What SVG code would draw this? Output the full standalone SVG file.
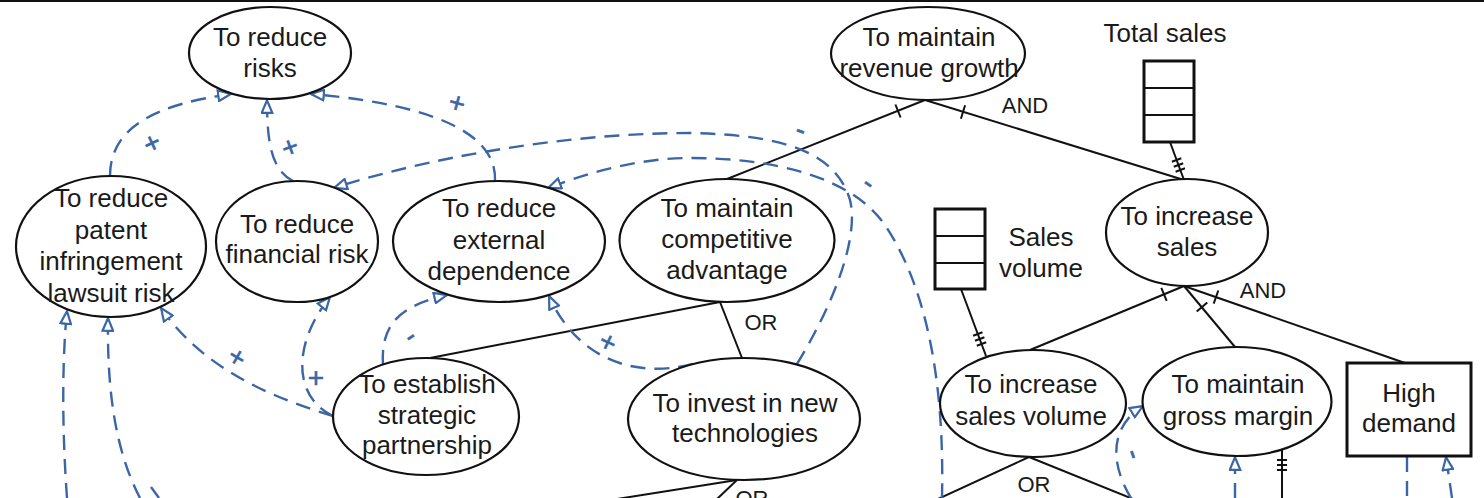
<svg xmlns="http://www.w3.org/2000/svg" width="1484" height="498" viewBox="0 0 1484 498">
<style>
.n{fill:#fff;stroke:#111;stroke-width:2.2}
.b{fill:#fff;stroke:#111;stroke-width:3}
.t{font-family:"Liberation Sans",Arial,sans-serif;font-size:26px;fill:#1a1a1a;text-anchor:middle}
.lb{font-family:"Liberation Sans",Arial,sans-serif;font-size:22px;fill:#1a1a1a;text-anchor:middle}
.s{fill:none;stroke:#111;stroke-width:2}
.d{fill:none;stroke:#3b66a6;stroke-width:2.4;stroke-dasharray:15 9}
.da{fill:none;stroke:#3b66a6;stroke-width:2.4;stroke-dasharray:15 9;marker-end:url(#arr)}
.sg{font-family:"Liberation Sans",Arial,sans-serif;font-size:28px;fill:#3b66a6;stroke:#3b66a6;stroke-width:0.6;text-anchor:middle}
</style>
<defs>
<marker id="arr" viewBox="0 0 15 13" refX="14" refY="6.5" markerWidth="15" markerHeight="13" markerUnits="userSpaceOnUse" orient="auto">
<path d="M1.2,1.2 L13.8,6.5 L1.2,11.8 z" fill="#fff" stroke="#3b66a6" stroke-width="2.2"/>
</marker>
</defs>
<rect x="0" y="0" width="1484" height="498" fill="#fff"/>
<line x1="0" y1="1" x2="1484" y2="1" stroke="#111" stroke-width="2"/>

<g id="connectors">
<path class="s" d="M925,100 L727,179"/>
<path class="s" d="M925,100 L1184,180"/>
<path class="s" d="M1170,142 L1184,180"/>
<path class="s" d="M961,289 L986,356"/>
<path class="s" d="M1184,286 L1030,350"/>
<path class="s" d="M1184,286 L1235,347"/>
<path class="s" d="M1184,286 L1405,363"/>
<path class="s" d="M720,302 L430,358"/>
<path class="s" d="M720,302 L742,358"/>
<path class="s" d="M737,480 L617,499"/>
<path class="s" d="M737,480 L717,499"/>
<path class="s" d="M1029,457 L938,499"/>
<path class="s" d="M1029,457 L1133,499"/>
<path class="s" d="M1282,449 L1282,498"/>
<path class="s" d="M895.4,104.5 L900.6,117.5 M965.1,105.3 L960.9,118.7 M1161.3,287.8 L1166.7,300.8 M1207.3,302.5 L1196.7,311.5 M1218.3,290.5 L1213.7,303.7"/>
<path class="s" d="M1171.9,161.7 L1181.3,158.3 M1173.8,166.7 L1183.2,163.3 M1175.6,171.7 L1185,168.3"/>
<path class="s" d="M973.1,335.8 L982.5,332.3 M975,340.8 L984.4,337.3 M976.8,345.8 L986.2,342.3"/>
<path class="s" d="M1277,460 L1287,460 M1277,465 L1287,465 M1277,470 L1287,470"/>
<text class="lb" x="1025" y="113">AND</text>
<text class="lb" x="1263" y="298">AND</text>
<text class="lb" x="761" y="330">OR</text>
<text class="lb" x="752" y="506">OR</text>
<text class="lb" x="1034" y="492">OR</text>
<path class="da" d="M110,176 C110,125 160,104 231,94"/>
<path class="da" d="M293,181 C272,170 267,145 267,100"/>
<path class="da" d="M495,181 C497,140 450,106 311,94"/>
<path class="da" d="M797,364 C830,310 860,240 850,200 C835,150 780,135 690,133 C560,133 420,160 334,188"/>
<path class="da" d="M942,498 C944,410 935,300 885,225 C850,175 770,158 690,158 C640,158 590,172 548,188"/>
<path class="da" d="M333,416 C280,400 205,372 161,308"/>
<path class="da" d="M333,416 C290,395 295,340 330,297"/>
<path class="da" d="M383,365 C380,320 405,305 447,295"/>
<path class="da" d="M693,364 C630,380 575,355 549,296"/>
<path class="da" d="M67,498 C62,430 62,360 67,311"/>
<path class="da" d="M140,498 C115,450 107,390 108,318"/>
<path class="d" d="M151,487 L159,498"/>
<path class="da" d="M1131,498 C1108,460 1112,425 1143,406"/>
<path class="da" d="M1235,498 L1235,457"/>
<path class="d" d="M1407,457 L1407,498"/>
<path class="da" d="M1452,498 L1446,457"/>
<text class="sg" x="152" y="152.5" transform="rotate(-25 152 143)">+</text>
<text class="sg" x="290" y="156.5" transform="rotate(-20 290 147)">+</text>
<text class="sg" x="457" y="112.5" transform="rotate(15 457 103)">+</text>
<text class="sg" x="237" y="366.5" transform="rotate(30 237 357)">+</text>
<text class="sg" x="316" y="386.5">+</text>
<text class="sg" x="608" y="351.5" transform="rotate(25 608 342)">+</text>
<text class="sg" x="801" y="139" transform="rotate(20 801 130)">-</text>
<text class="sg" x="869" y="192" transform="rotate(35 869 183)">-</text>
<text class="sg" x="410" y="345" transform="rotate(-35 410 336)">-</text>
<text class="sg" x="1134" y="463" transform="rotate(70 1134 454)">-</text>
</g>

<g id="reduce-risks"><ellipse class="n" cx="270" cy="53" rx="81" ry="46"/><text class="t" x="270" y="46">To reduce</text><text class="t" x="270" y="77">risks</text></g>
<g id="reduce-patent"><ellipse class="n" cx="111" cy="246.5" rx="95" ry="70.5"/><text class="t" x="111" y="207">To reduce</text><text class="t" x="111" y="239">patent</text><text class="t" x="111" y="270">infringement</text><text class="t" x="111" y="302">lawsuit risk</text></g>
<g id="reduce-financial"><ellipse class="n" cx="297" cy="241.5" rx="81" ry="60.5"/><text class="t" x="297" y="233">To reduce</text><text class="t" x="297" y="263">financial risk</text></g>
<g id="reduce-external"><ellipse class="n" cx="499" cy="241.5" rx="106" ry="60.5"/><text class="t" x="499" y="217">To reduce</text><text class="t" x="499" y="249">external</text><text class="t" x="499" y="280">dependence</text></g>
<g id="competitive"><ellipse class="n" cx="727" cy="240.5" rx="107.5" ry="61.5"/><text class="t" x="727" y="217">To maintain</text><text class="t" x="727" y="248">competitive</text><text class="t" x="727" y="279">advantage</text></g>
<g id="partnership"><ellipse class="n" cx="426" cy="416.5" rx="93" ry="58.5"/><text class="t" x="427" y="393">To establish</text><text class="t" x="427" y="424">strategic</text><text class="t" x="427" y="454">partnership</text></g>
<g id="invest"><ellipse class="n" cx="744" cy="419" rx="116" ry="61"/><text class="t" x="745" y="412">To invest in new</text><text class="t" x="745" y="442">technologies</text></g>
<g id="revenue"><ellipse class="n" cx="928" cy="53.5" rx="97" ry="46.5"/><text class="t" x="929" y="46">To maintain</text><text class="t" x="929" y="77">revenue growth</text></g>
<g id="total-sales"><text class="t" x="1165" y="42">Total sales</text><rect class="b" x="1144" y="61" width="50" height="81"/><path class="s" stroke-width="3" d="M1144,88 L1194,88 M1144,115 L1194,115"/></g>
<g id="increase-sales"><ellipse class="n" cx="1187" cy="232.5" rx="81" ry="53.5"/><text class="t" x="1187" y="225">To increase</text><text class="t" x="1187" y="256">sales</text></g>
<g id="sales-volume-measure"><rect class="b" x="935" y="209" width="50" height="80"/><path class="s" stroke-width="3" d="M935,236 L985,236 M935,263 L985,263"/><text class="t" x="1041" y="246">Sales</text><text class="t" x="1041" y="277">volume</text></g>
<g id="increase-volume"><ellipse class="n" cx="1033" cy="403.5" rx="93" ry="53.5"/><text class="t" x="1031" y="393">To increase</text><text class="t" x="1031" y="425">sales volume</text></g>
<g id="gross-margin"><ellipse class="n" cx="1237" cy="401.5" rx="94.5" ry="54.5"/><text class="t" x="1238" y="393">To maintain</text><text class="t" x="1238" y="425">gross margin</text></g>
<g id="high-demand"><rect class="b" x="1347" y="363" width="124" height="93"/><text class="t" x="1409" y="402">High</text><text class="t" x="1409" y="432">demand</text></g>
</svg>
